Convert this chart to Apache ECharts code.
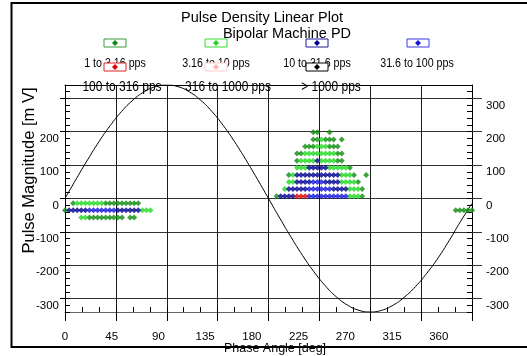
<!DOCTYPE html>
<html><head><meta charset="utf-8">
<script src="https://cdn.jsdelivr.net/npm/echarts@6/dist/echarts.min.js"></script>
<style>html,body{margin:0;padding:0;background:#fff}#c{width:527px;height:356px}</style>
</head><body><div id="c"></div>
<script>
// ---------- data ----------
const seriesNames = ['1 to 3.16 pps', '3.16 to 10 pps', '10 to 31.6 pps', '31.6 to 100 pps', '100 to 316 pps', '316 to 1000 pps', '> 1000 pps'];
const seriesCodes = ['d', 'g', 'n', 'b', 'r', 'p', 'k'];
// phase bin width in degrees
const BIN_DEG = 3.6;
// one entry per row of dots: magnitude (mV), first phase bin, colour code per consecutive bin ('.' = empty)
const rowMag = [198.25, 177, 155.75, 134.5, 113.25, 92, 70.75, 49.5, 28.25, 7, -14.25, -35.5, -56.75, -35.5];
const rowStartBin = [61, 61, 59, 57, 57, 57, 55, 55, 54, 52, 2, 0, 4, 96];
const rowCodes = [
  'dd..d',
  'ddgddd.d',
  'dddgggddd',
  'ddggggggggdd',
  'dggggnggggdd',
  'gggnnnnngggggd',
  'dgnnnnnnnnnnngggd..d',
  'ggnnnnbbbnnnnggggd',
  'gnnnnnbbbbbbnnnngggd',
  'dnnnnrrrbbbbbbbbbbgggd',
  'dgggggggddddddddd',
  'dnnnnnbbbbbbbnnnnnnggg',
  'ggddddddddd.dd',
  'ddddd'
];
// reference sine (mV)
const sinePhase = [0,10,20,30,40,50,60,70,80,90,100,110,120,130,140,150,160,170,180,190,200,210,220,230,240,250,260,270,280,290,300,310,320,330,340,350,360];
const sineMag = [0,59,116,170,218.5,260.5,294.5,319.5,335,340,335,319.5,294.5,260.5,218.5,170,116,59,0,-59,-116,-170,-218.5,-260.5,-294.5,-319.5,-335,-340,-335,-320,-296,-264,-224,-178,-125,-68,-15];
const xTickLabels = [0, 45, 90, 135, 180, 225, 270, 315, 360];
const yMajorTicks = [-300, -200, -100, 0, 100, 200, 300];
const yLeftTickLabels = [-300, -200, -100, 0, 100, 200];
const yRightTickLabels = [-300, -200, -100, 0, 100, 200, 300];

// ---------- styles ----------
const seriesColors = ['#0e8c0e', '#22d822', '#000090', '#1414e0', '#e00000', '#ffb4b4', '#000000'];
const legendBorders = ['#3a9a3a', '#33dd33', '#1a1a9a', '#3838ee', '#dd2222', '#ffcccc', '#000000'];
const REG = '"Liberation Sans", Arial, sans-serif';

function pointsFor(code) {
  const out = [];
  rowCodes.forEach((s, r) => {
    for (let j = 0; j < s.length; j++) {
      if (s[j] === code) out.push([(rowStartBin[r] + j) * BIN_DEG, rowMag[r]]);
    }
  });
  return out;
}

const series = seriesNames.map((name, i) => ({
  type: 'scatter', name, xAxisIndex: 0, yAxisIndex: 0,
  symbol: 'diamond', symbolSize: [6, 6], silent: true, z: 4,
  itemStyle: { color: seriesColors[i] },
  data: pointsFor(seriesCodes[i])
}));
series.push({
  type: 'line', xAxisIndex: 0, yAxisIndex: 0, smooth: true, showSymbol: false, silent: true, z: 3,
  lineStyle: { color: '#000', width: 1 },
  data: sinePhase.map((p, i) => [p, sineMag[i]])
});

const off = { show: false };
const xBase = { type: 'value', min: 0, max: 360, position: 'bottom',
  axisLine: { show: false, onZero: false }, axisTick: off, axisLabel: off, splitLine: off };
const yBase = { type: 'value', min: -340, max: 340,
  axisLine: { show: false, onZero: false }, axisTick: off, axisLabel: off, splitLine: off };
const labelStyle = { fontFamily: REG, fontSize: 11.5, color: '#000' };

// legend layout: [iconX, iconY, textX, textY]
const legendLayout = [[115, 43, 115, 63], [216, 43, 216, 63], [317, 43, 317, 63], [418, 43, 417, 63],
                      [115, 67, 122, 86.5], [216, 67, 228, 86.5], [317, 67, 331, 86.5]];
const legendEls = [];
seriesNames.forEach((name, i) => {
  const [ix, iy, tx, ty] = legendLayout[i];
  const row2 = i >= 4;
  legendEls.push({ type: 'text', x: tx, y: ty, scaleX: 0.82, z: 10 + (row2 ? 2 : 0),
    style: { text: name, align: 'center', verticalAlign: 'middle', fontFamily: REG, fontSize: row2 ? 14.6 : 13, fill: '#000' } });
  legendEls.push({ type: 'rect', z: 11 + (row2 ? 2 : 0), shape: { x: ix - 11, y: iy - 4, width: 22, height: 8 },
    style: { fill: '#fff', stroke: legendBorders[i], lineWidth: 1 } });
  legendEls.push({ type: 'polygon', z: 11 + (row2 ? 2 : 0), shape: { points: [[ix, iy - 3], [ix + 3, iy], [ix, iy + 3], [ix - 3, iy]] },
    style: { fill: seriesColors[i] } });
});

const option = {
  animation: false,
  backgroundColor: '#fff',
  grid: { left: 65, top: 85, width: 407, height: 227, containLabel: false, outerBoundsMode: 'none' },
  xAxis: [
    Object.assign({}, xBase, { interval: 45,
      axisLine: { show: true, onZero: false, lineStyle: { color: '#666', width: 1 } },
      axisTick: { show: true, length: 9, lineStyle: { color: '#000' } },
      splitLine: { show: true, lineStyle: { color: '#1a1a1a', width: 1 } } }),
    Object.assign({}, xBase, { interval: 15,
      axisTick: { show: true, inside: true, length: 5, lineStyle: { color: '#000' } } }),
    Object.assign({}, xBase, { max: 392,
      axisLabel: Object.assign({ show: true, customValues: xTickLabels, margin: 19 }, labelStyle),
      name: 'Phase Angle [deg]', nameLocation: 'middle', nameGap: 30, nameMoveOverlap: false,
      nameTextStyle: { fontFamily: REG, fontSize: 12.5, color: '#000', padding: [0, 0, 0, 13] } }),
    Object.assign({}, xBase, { position: 'top',
      axisLine: { show: true, onZero: false, lineStyle: { color: '#000', width: 1 } } })
  ],
  yAxis: [
    Object.assign({}, yBase, { position: 'left',
      axisLine: { show: true, onZero: false, lineStyle: { color: '#000' } },
      axisTick: { show: true, customValues: yMajorTicks, length: 5, lineStyle: { color: '#000' } },
      splitLine: { show: true, lineStyle: { color: '#333', width: 1 } },
      name: 'Pulse Magnitude [m V]', nameLocation: 'middle', nameGap: 27, nameMoveOverlap: false,
      nameTextStyle: { fontFamily: REG, fontSize: 16.5, color: '#000', padding: [0, 0, 0, 56] } }),
    Object.assign({}, yBase, { position: 'left', interval: 20,
      axisTick: { show: true, inside: true, length: 5, lineStyle: { color: '#000' } } }),
    Object.assign({}, yBase, { position: 'right',
      axisLine: { show: true, onZero: false, lineStyle: { color: '#000' } },
      axisTick: { show: true, customValues: yMajorTicks, length: 10, lineStyle: { color: '#333' } } }),
    Object.assign({}, yBase, { position: 'right', interval: 20,
      axisTick: { show: true, inside: true, length: 5, lineStyle: { color: '#000' } } }),
    // label-only axes: tick labels sit slightly below their grid lines, as in the original plot
    Object.assign({}, yBase, { position: 'left', min: -319, max: 361,
      axisLabel: Object.assign({ show: true, customValues: yLeftTickLabels, margin: 6 }, labelStyle) }),
    Object.assign({}, yBase, { position: 'right', min: -319, max: 361,
      axisLabel: Object.assign({ show: true, customValues: yRightTickLabels, margin: 14 }, labelStyle) })
  ],
  graphic: [
    { type: 'rect', z: 1, shape: { x: 11.5, y: 3, width: 600, height: 344 },
      style: { fill: 'none', stroke: '#000', lineWidth: 2 } },
    { type: 'text', x: 262, y: 17.5, z: 10,
      style: { text: 'Pulse Density Linear Plot', align: 'center', verticalAlign: 'middle', fontFamily: REG, fontSize: 14.5, fill: '#000' } },
    { type: 'text', x: 287, y: 34, z: 10,
      style: { text: 'Bipolar Machine PD', align: 'center', verticalAlign: 'middle', fontFamily: REG, fontSize: 14.5, fill: '#000' } }
  ].concat(legendEls),
  series
};
const chart = echarts.init(document.getElementById('c'), null, { renderer: 'canvas' });
chart.setOption(option);
</script></body></html>
